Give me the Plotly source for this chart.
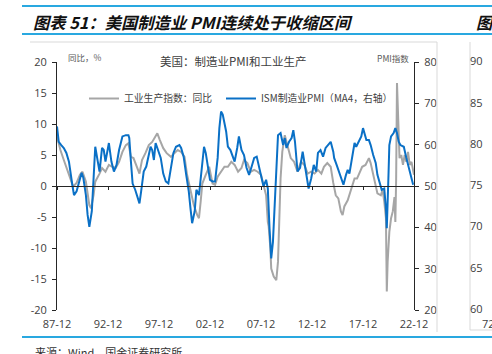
import plotly.graph_objects as go

# ---------------- data ----------------
ip_dates = ["1987-12","1988-04","1988-08","1988-11","1989-03","1989-07","1989-11","1990-03","1990-06","1990-10",
            "1991-02","1991-04","1991-07","1991-09","1992-02","1992-05","1992-09","1993-01","1993-05","1993-09",
            "1994-01","1994-05","1994-09","1994-12","1995-03","1995-06","1996-01","1996-04","1996-08","1996-12",
            "1997-04","1997-08","1997-10","1998-01","1998-05","1998-09","1999-02","1999-06","1999-10","2000-02",
            "2000-06","2000-09","2001-01","2001-05","2001-09","2001-11","2002-01","2002-03","2002-07","2002-11",
            "2003-03","2003-06","2003-09","2004-01","2004-05","2004-09","2005-01","2005-05","2005-09","2006-01",
            "2006-04","2006-08","2006-12","2007-04","2007-08","2007-12","2008-03","2008-06","2008-08","2008-09",
            "2008-11","2008-12","2009-03","2009-06","2009-08","2009-09","2009-11","2010-01","2010-04","2010-07",
            "2010-11","2011-03","2011-07","2011-11","2012-03","2012-07","2012-11","2013-03","2013-07","2013-11",
            "2014-02","2014-06","2014-10","2015-01","2015-04","2015-07","2015-10","2015-12","2016-02","2016-06",
            "2016-10","2017-02","2017-05","2017-08","2017-11","2018-03","2018-07","2018-09","2018-12","2019-03",
            "2019-05","2019-09","2019-11","2020-01","2020-03","2020-04","2020-05","2020-07","2020-09","2020-11",
            "2021-01","2021-02","2021-03","2021-04","2021-05","2021-06","2021-07","2021-09","2021-11","2022-01",
            "2022-03","2022-05","2022-07","2022-09","2022-11","2022-12"]
ip_yoy = [8.0,5.8,4.2,3.1,1.5,-0.1,0.5,1.8,2.3,0.7,
          -3.1,-3.6,-1.5,0.7,2.0,2.9,2.3,3.4,3.1,2.9,
          3.9,5.5,6.6,6.9,4.7,4.5,2.0,4.2,5.3,6.6,
          7.1,8.2,8.5,7.4,6.1,5.3,4.7,5.3,5.8,5.5,
          4.7,1.8,-0.6,-3.1,-4.7,-5.2,-2.5,0.4,1.8,3.1,
          0.4,0.2,1.5,2.3,3.1,3.1,3.9,3.4,2.3,2.9,
          4.2,3.7,2.3,2.6,2.3,1.8,0.2,-1.5,-5.8,-6.5,
          -10.1,-13.3,-14.6,-15.2,-12.2,-7.1,1.2,5.5,8.2,6.6,
          4.5,3.9,2.3,3.9,3.4,2.0,2.3,2.0,2.6,2.0,
          3.1,3.7,3.1,0.5,-1.5,-2.0,-4.1,-4.7,-3.3,-2.3,
          -0.6,1.2,1.2,2.3,3.1,3.4,4.5,3.7,1.8,0.2,
          -1.2,-1.5,-0.6,-2.5,-5.2,-17.0,-12.2,-7.4,-5.2,-4.1,
          -1.8,-5.8,1.0,16.6,12.0,7.1,4.5,5.0,3.4,5.0,
          3.9,5.5,3.4,3.9,2.3,1.8]

pmi_dates = ["1987-12","1988-02","1988-05","1988-08","1988-11","1989-02","1989-06","1989-08","1989-11","1990-02",
             "1990-05","1990-07","1990-10","1990-12","1991-02","1991-05","1991-07","1991-09","1991-12","1992-02",
             "1992-05","1992-07","1992-09","1992-11","1993-01","1993-04","1993-07","1993-10","1994-01","1994-05",
             "1994-09","1994-12","1995-01","1995-03","1995-05","1995-08","1996-01","1996-03","1996-06","1996-09",
             "1996-12","1997-02","1997-04","1997-06","1997-08","1997-10","1998-02","1998-05","1998-08","1998-11",
             "1999-02","1999-05","1999-08","1999-12","2000-02","2000-05","2000-08","2000-11","2001-01","2001-03",
             "2001-06","2001-08","2001-11","2002-02","2002-05","2002-07","2002-10","2002-12","2003-03","2003-06",
             "2003-09","2003-11","2004-01","2004-03","2004-07","2004-09","2004-12","2005-03","2005-05","2005-08",
             "2005-10","2006-01","2006-04","2006-07","2006-10","2007-01","2007-04","2007-07","2007-09","2007-12",
             "2008-03","2008-06","2008-08","2008-10","2008-12","2009-02","2009-04","2009-06","2009-08","2009-11",
             "2010-02","2010-04","2010-06","2010-09","2010-12","2011-02","2011-04","2011-07","2011-10","2012-01",
             "2012-03","2012-06","2012-08","2012-11","2013-02","2013-05","2013-07","2013-10","2014-01","2014-04",
             "2014-07","2014-10","2015-01","2015-02","2015-05","2015-06","2015-10","2016-01","2016-04","2016-06",
             "2016-08","2016-11","2017-02","2017-04","2017-07","2017-10","2017-12","2018-02","2018-04","2018-07",
             "2018-09","2018-12","2019-03","2019-05","2019-08","2019-10","2020-01","2020-03","2020-04","2020-05",
             "2020-06","2020-07","2020-09","2020-12","2021-02","2021-04","2021-06","2021-08","2021-12","2022-03",
             "2022-06","2022-09","2022-11"]
pmi_ma4 = [64.4,60.7,59.9,59.2,58.0,55.9,50.3,47.8,48.7,50.8,
           53.2,52.0,47.8,43.0,40.1,43.9,50.3,59.5,55.9,53.5,
           59.2,58.7,55.9,58.0,60.4,55.9,53.5,55.1,58.7,62.0,
           62.3,62.3,61.6,55.9,50.6,49.1,45.8,48.7,53.5,54.7,
           58.0,59.5,58.7,56.3,60.4,59.2,56.8,53.0,51.1,50.6,
           54.4,58.0,59.5,59.9,59.2,57.1,52.7,48.7,44.6,41.0,
           43.9,49.1,47.8,53.5,59.5,58.0,53.9,51.5,51.1,51.1,
           56.8,64.0,68.0,67.3,63.2,59.5,58.7,57.1,55.9,59.2,
           62.0,58.7,57.5,54.4,52.7,54.7,56.8,57.1,55.1,52.3,
           49.9,51.5,49.4,39.8,32.5,36.5,45.4,53.5,62.3,62.8,
           59.9,61.6,59.2,60.7,61.6,63.5,60.7,53.5,54.4,58.3,
           55.9,51.8,49.4,51.8,55.1,53.5,58.0,58.7,57.1,59.2,
           59.9,60.7,58.3,56.8,55.1,54.5,51.8,50.3,52.7,53.9,
           53.0,56.8,60.4,59.5,60.7,62.0,64.0,62.3,61.1,61.1,
           59.9,57.5,55.6,52.7,50.3,49.1,49.4,44.6,39.8,44.6,
           52.7,59.9,62.0,62.8,64.0,62.8,60.7,59.9,59.5,56.8,
           54.4,51.8,50.3]

x_tick_vals = ["1987-12-01","1992-12-01","1997-12-01","2002-12-01","2007-12-01",
               "2012-12-01","2017-12-01","2022-12-01"]
x_tick_text = ["87-12","92-12","97-12","02-12","07-12","12-12","17-12","22-12"]
left_tick_vals = [-20,-15,-10,-5,0,5,10,15,20]
left_tick_text = ["-20","-15","-10","-5","0","5","10","15","20"]
right_tick_vals = [20,30,40,50,60,70,80]
side_tick_text = ["90","85","80","75","70","65","60"]

ip_dates = [d + "-01" for d in ip_dates]
pmi_dates = [d + "-01" for d in pmi_dates]

# ---------------- layout helpers ----------------
W, H = 492, 354
L, R, T, B = 57, 78, 62, 44
PW, PH = W - L - R, H - T - B
def fx(x): return (x - L) / PW
def fy(y): return (H - B - y) / PH

FONT = "Open Sans, Noto Sans CJK SC, sans-serif"
CJK = "Noto Sans CJK SC, sans-serif"
TXT = "#404040"
BLUE_LINE = "#29A8E0"

fig = go.Figure()
fig.add_trace(go.Scatter(x=ip_dates, y=ip_yoy, mode="lines", name="工业生产指数：同比",
                         line=dict(color="#A6A6A6", width=2), xaxis="x", yaxis="y",
                         legend="legend"))
fig.add_trace(go.Scatter(x=pmi_dates, y=pmi_ma4, mode="lines", name="ISM制造业PMI（MA4，右轴）",
                         line=dict(color="#0A70C6", width=2), xaxis="x", yaxis="y2",
                         legend="legend2"))
# invisible helper trace for the label axis
fig.add_trace(go.Scatter(x=[x_tick_vals[0], x_tick_vals[-1]], y=[0, 0], mode="lines",
                         line=dict(width=0), showlegend=False, hoverinfo="skip",
                         xaxis="x2", yaxis="y"))

legend_common = dict(orientation="h", yanchor="top", xanchor="left", itemwidth=30,
                     font=dict(family=CJK, size=9.8, color=TXT), bgcolor="rgba(0,0,0,0)")
xr = ["1987-12-01", "2022-12-01"]
fig.update_layout(
    width=W, height=H, margin=dict(l=L, r=R, t=T, b=B),
    paper_bgcolor="white", plot_bgcolor="white",
    font=dict(family=FONT, size=11, color=TXT),
    showlegend=True,
    legend=dict(x=fx(84), y=fy(84), **legend_common),
    legend2=dict(x=fx(221), y=fy(84), **legend_common),
    xaxis=dict(range=xr, type="date", anchor="free", position=0.5,
               showline=True, linecolor="#262626", linewidth=1,
               tickvals=x_tick_vals, ticks="outside", ticklen=3, tickcolor="#262626",
               showticklabels=False, showgrid=False, zeroline=False),
    xaxis2=dict(range=xr, type="date", overlaying="x", anchor="y", side="bottom",
                matches="x", showline=False, ticks="", tickvals=x_tick_vals,
                ticktext=x_tick_text, showgrid=False, zeroline=False,
                tickfont=dict(size=11, color=TXT), ticklabelstandoff=6),
    yaxis=dict(range=[-20, 20], tickvals=left_tick_vals, ticktext=left_tick_text,
               showline=True, linecolor="#262626", linewidth=1, ticks="outside",
               ticklen=4, tickcolor="#262626", showgrid=False, zeroline=False,
               tickfont=dict(size=11, color=TXT), ticklabelstandoff=3),
    yaxis2=dict(range=[20, 80], tickvals=right_tick_vals, overlaying="y", side="right",
                anchor="x", showline=True, linecolor="#262626", linewidth=1,
                ticks="outside", ticklen=4, tickcolor="#262626", showgrid=False,
                zeroline=False, tickfont=dict(size=11, color=TXT), ticklabelstandoff=3),
)

ann = []
def A(x, y, text, size, color=TXT, xanchor="left", family=CJK, **kw):
    ann.append(dict(x=fx(x), y=fy(y), xref="paper", yref="paper", text=text, showarrow=False,
                    xanchor=xanchor, yanchor="middle", font=dict(family=family, size=size, color=color), **kw))

A(31, 22, "<b><i>图表 51：美国制造业 PMI连续处于收缩区间</i></b>", 16.3, color="#111111")
A(474, 22, "<b><i>图</i></b>", 16.3, color="#111111")
A(233, 61, "美国：制造业PMI和工业生产", 11.5, xanchor="center")
A(66, 57, "同比，%", 8.5, color="#595959")
A(411, 58, "PMI指数", 8.5, color="#595959", xanchor="right")
for i, t in enumerate(side_tick_text):
    A(476, 61 + i * 41.2, t, 11, xanchor="center", family=FONT)
A(488, 323, "72", 11, xanchor="center", family=FONT)
A(33, 352, "来源：Wind，国金证券研究所", 11, color="#333333")
fig.update_layout(annotations=ann)

shapes = []
def S(x0, y0, x1, y1, color, width):
    shapes.append(dict(type="line", xref="paper", yref="paper", x0=fx(x0), y0=fy(y0),
                       x1=fx(x1), y1=fy(y1), line=dict(color=color, width=width)))
S(22, 6, 492, 6, BLUE_LINE, 2)
S(22, 34, 492, 34, BLUE_LINE, 2)
S(22, 337, 492, 337, BLUE_LINE, 2)
S(30, 42, 437, 42, "#D9D9D9", 1)
S(437, 42, 437, 332, "#D9D9D9", 1)
S(470, 42, 470, 330, "#D9D9D9", 1)
S(470, 330, 492, 330, "#D9D9D9", 1)
fig.update_layout(shapes=shapes)

fig.write_html("out.html")
